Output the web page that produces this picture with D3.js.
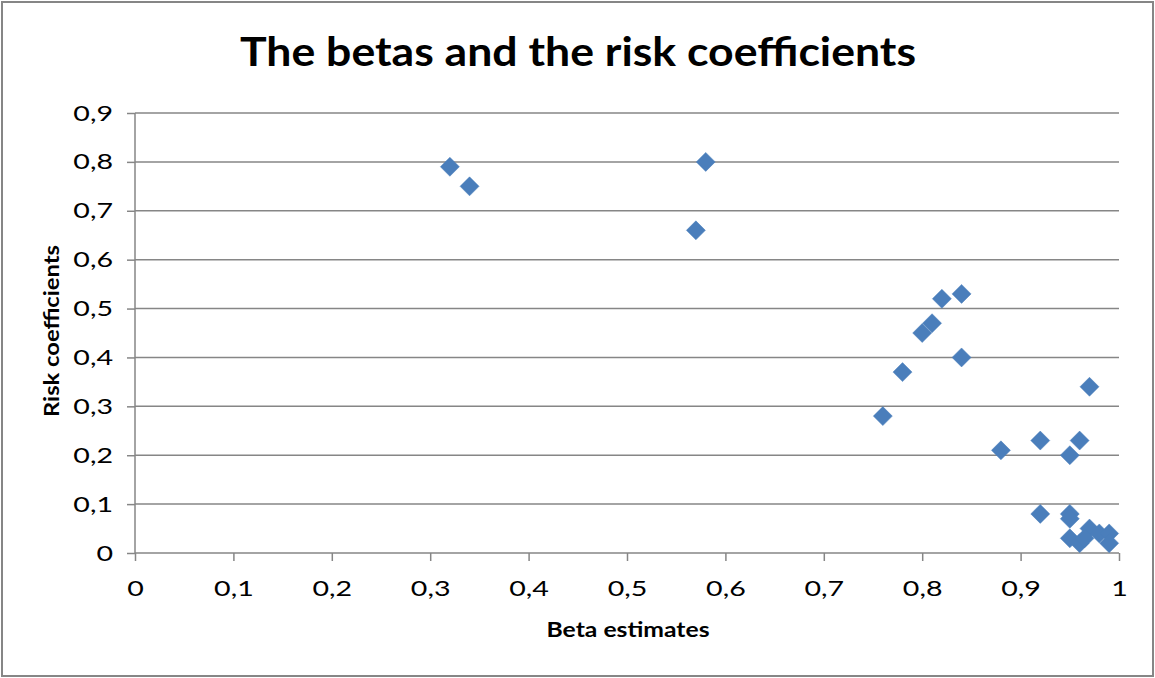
<!DOCTYPE html>
<html>
<head>
<meta charset="utf-8">
<script src="https://cdn.jsdelivr.net/npm/d3@7"></script>
<style>
  body { margin: 0; background: #fff; }
  svg { display: block; font-family: Lato, "Open Sans", sans-serif; }
</style>
</head>
<body>
<div id="chart"></div>
<script>
const betas = [0.32, 0.34, 0.57, 0.58, 0.76, 0.78, 0.80, 0.81, 0.82, 0.84, 0.84, 0.88,
               0.92, 0.92, 0.95, 0.96, 0.97, 0.95, 0.95, 0.95, 0.96, 0.97, 0.965, 0.98, 0.99, 0.99]
const risks = [0.79, 0.75, 0.66, 0.80, 0.28, 0.37, 0.45, 0.47, 0.52, 0.53, 0.40, 0.21,
               0.23, 0.08, 0.20, 0.23, 0.34, 0.08, 0.07, 0.03, 0.02, 0.05, 0.03, 0.04, 0.04, 0.02]
const xTicks = [0, 0.1, 0.2, 0.3, 0.4, 0.5, 0.6, 0.7, 0.8, 0.9, 1]
const yTicks = [0, 0.1, 0.2, 0.3, 0.4, 0.5, 0.6, 0.7, 0.8, 0.9]

const W = 1155, H = 678
const margin = { top: 113, right: 36, bottom: 125, left: 135 },
    width = W - margin.left - margin.right,
    height = H - margin.top - margin.bottom

const fmt = d => String(d).replace(".", ",")
const grey = "#868686"

// the original text is drawn a bit wider than Lato, so stretch it
function stretch(sel, k) {
    sel.each(function () {
        const len = this.getComputedTextLength()
        d3.select(this).attr("textLength", len * k).attr("lengthAdjust", "spacingAndGlyphs")
    })
}

const root = d3.select("#chart").append("svg")
    .attr("width", W).attr("height", H)

// outer frame
root.append("rect")
    .attr("x", 2).attr("y", 2).attr("width", W - 4).attr("height", H - 4)
    .attr("fill", "#fff").attr("stroke", grey).attr("stroke-width", 2)

root.append("text")
    .attr("x", 578).attr("y", 66)
    .attr("text-anchor", "middle")
    .style("font-size", "40px").style("font-weight", "bold")
    .text("The betas and the risk coefficients")
    .attr("textLength", 676).attr("lengthAdjust", "spacingAndGlyphs")

const svg = root.append("g")
    .attr("transform", `translate(${margin.left}, ${margin.top})`)

let x = d3.scaleLinear().domain([0, 1]).range([0, width])
let y = d3.scaleLinear().domain([0, 0.9]).range([height, 0])

/* gridlines */
svg.selectAll("grid")
    .data(yTicks.filter(d => d > 0))
    .enter()
    .append("line")
    .attr("x1", 0).attr("x2", width)
    .attr("y1", d => y(d)).attr("y2", d => y(d))
    .attr("stroke", grey).attr("stroke-width", 1.5)

/* Y-axis */
const yAxis = svg.append("g")
    .call(d3.axisLeft(y).tickValues(yTicks).tickFormat(fmt).tickSize(8).tickPadding(14))
yAxis.selectAll("line, path").attr("stroke", grey).attr("stroke-width", 1.5)
yAxis.select(".domain").attr("d", `M0,${height}V0`)
yAxis.selectAll("text").style("font-size", "22px").attr("fill", "#000")
    .style("font-family", "Lato, 'Open Sans', sans-serif")
    .call(stretch, 1.3)

/* X-axis */
const xAxis = svg.append("g")
    .attr("transform", `translate(0, ${height})`)
    .call(d3.axisBottom(x).tickValues(xTicks).tickFormat(fmt).tickSize(8).tickPadding(19))
xAxis.selectAll("line, path").attr("stroke", grey).attr("stroke-width", 1.5)
xAxis.select(".domain").attr("d", `M0,0H${width}`)
xAxis.selectAll("text").style("font-size", "22px").attr("fill", "#000")
    .style("font-family", "Lato, 'Open Sans', sans-serif")
    .call(stretch, 1.3)

svg.append("text")
    .attr("text-anchor", "middle")
    .attr("x", width / 2 + 1)
    .attr("y", height + 84)
    .style("font-size", "21px").style("font-weight", "bold")
    .text("Beta estimates")
    .attr("textLength", 163).attr("lengthAdjust", "spacingAndGlyphs")

svg.append("text")
    .attr("text-anchor", "middle")
    .attr("transform", "rotate(-90)")
    .attr("x", -height / 2 + 2)
    .attr("y", -76)
    .style("font-size", "21px").style("font-weight", "bold")
    .text("Risk coefficients")
    .attr("textLength", 172).attr("lengthAdjust", "spacingAndGlyphs")

/* points */
const r = 9.5
svg.selectAll("pt")
    .data(betas.map((b, i) => ({ b: b, r: risks[i] })))
    .enter()
    .append("path")
    .attr("d", `M0,${-r}L${r},0L0,${r}L${-r},0Z`)
    .attr("transform", d => `translate(${x(d.b)}, ${y(d.r)})`)
    .attr("fill", "#4a7ebb")
    .attr("stroke", "#4a7ebb").attr("stroke-width", 0.5)
</script>
</body>
</html>
